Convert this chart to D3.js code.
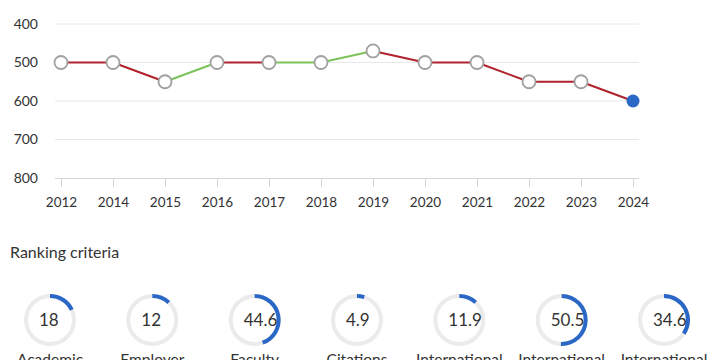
<!DOCTYPE html>
<html>
<head>
<meta charset="utf-8">
<script src="https://cdn.jsdelivr.net/npm/d3@7"></script>
<style>
  html, body { margin: 0; padding: 0; background: #fff; }
  svg { display: block; font-family: Lato, "Open Sans", sans-serif; }
</style>
</head>
<body>
<svg id="chart" width="720" height="360"></svg>
<script>
const years = ["2012","2014","2015","2016","2017","2018","2019","2020","2021","2022","2023","2024"];
const ranks = [500, 500, 550, 500, 500, 500, 470, 500, 500, 550, 550, 600];
const segmentTrend = ["down","down","up","down","up","up","down","down","down","down","down"];
const yTicks = [400, 500, 600, 700, 800];

const criteriaNames = ["Academic", "Employer", "Faculty", "Citations", "International", "International", "International"];
const criteriaScores = [18, 12, 44.6, 4.9, 11.9, 50.5, 34.6];
const criteriaLabels = ["18", "12", "44.6", "4.9", "11.9", "50.5", "34.6"];

const svg = d3.select("#chart");
const textColor = "#333";

// Scales
const x = d3.scalePoint().domain(years).range([61, 633]);
const y = d3.scaleLinear().domain([400, 800]).range([24, 178]);

// Gridlines
svg.append("g").selectAll("line").data(yTicks.slice(0, -1)).join("line")
  .attr("x1", 55).attr("x2", 639)
  .attr("y1", d => y(d)).attr("y2", d => y(d))
  .attr("stroke", "#e8e8e8").attr("stroke-width", 1);

// Y axis labels
const yAxis = d3.axisLeft(y).tickValues(yTicks).tickSize(0).tickPadding(0);
const gy = svg.append("g").attr("transform", "translate(38,0)").call(yAxis);
gy.select(".domain").remove();
gy.selectAll("text").attr("fill", textColor).style("font-size", "14px").style("font-family", "Lato, sans-serif");

// X axis
const xAxis = d3.axisBottom(x).tickSize(9).tickPadding(10).tickSizeOuter(0);
const gx = svg.append("g").attr("transform", "translate(0,178)").call(xAxis);
gx.select(".domain").attr("d", "M55,0.5H639").attr("stroke", "#d6d6d6");
gx.selectAll(".tick line").attr("stroke", "#d6d6d6");
gx.selectAll("text").attr("fill", textColor).style("font-size", "13.5px").style("font-family", "Lato, sans-serif");

// Line segments
const segs = d3.range(ranks.length - 1).map(i => ({i, trend: segmentTrend[i]}));
svg.append("g").selectAll("line").data(segs).join("line")
  .attr("x1", d => x(years[d.i])).attr("y1", d => y(ranks[d.i]))
  .attr("x2", d => x(years[d.i + 1])).attr("y2", d => y(ranks[d.i + 1]))
  .attr("stroke", d => d.trend === "up" ? "#7cc35c" : "#b0222c")
  .attr("stroke-width", 2);

// Points
const last = ranks.length - 1;
svg.append("g").selectAll("circle").data(ranks).join("circle")
  .attr("cx", (d, i) => x(years[i]))
  .attr("cy", d => y(d))
  .attr("r", (d, i) => i === last ? 6.5 : 6.5)
  .attr("fill", (d, i) => i === last ? "#2b67c6" : "#fff")
  .attr("stroke", (d, i) => i === last ? "#2b67c6" : "#a0a0a0")
  .attr("stroke-width", (d, i) => i === last ? 0 : 1.8);

// Ranking criteria title
svg.append("text").attr("x", 10).attr("y", 258)
  .attr("fill", textColor).style("font-size", "16px").text("Ranking criteria");

// Donuts
const cx = d3.scaleLinear().domain([0, criteriaScores.length - 1]).range([50, 664]);
const pct = d3.scaleLinear().domain([0, 100]).range([0, 2 * Math.PI]);
const arc = d3.arc().innerRadius(22).outerRadius(26).startAngle(0);

const donut = svg.append("g").selectAll("g").data(criteriaScores).join("g")
  .attr("transform", (d, i) => `translate(${cx(i)},320)`);
donut.append("path").attr("d", arc({endAngle: 2 * Math.PI})).attr("fill", "#ebebeb");
donut.append("path").attr("d", d => arc({endAngle: pct(d)})).attr("fill", "#2b67c6");
donut.append("text").attr("x", -11).attr("y", 6)
  .attr("fill", textColor).style("font-size", "17px")
  .text((d, i) => criteriaLabels[i]);
donut.append("text").attr("x", 0).attr("y", 365 - 320)
  .attr("text-anchor", "middle").attr("fill", textColor).style("font-size", "15.5px")
  .text((d, i) => criteriaNames[i]);
</script>
</body>
</html>
